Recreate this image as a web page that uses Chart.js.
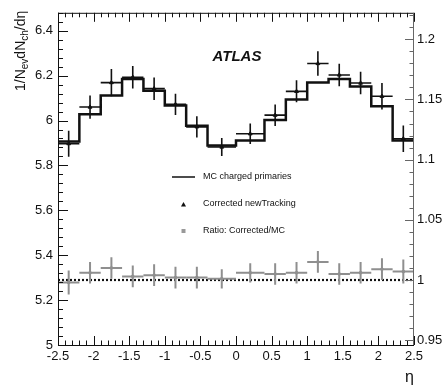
<!DOCTYPE html>
<html>
<head>
<meta charset="utf-8">
<script src="https://cdn.jsdelivr.net/npm/chart.js@4.4.1/dist/chart.umd.min.js"></script>
<style>
  html, body { margin: 0; padding: 0; background: #fff; }
  #wrap { width: 446px; height: 387px; }
</style>
</head>
<body>
<div id="wrap"><canvas id="myChart"></canvas></div>
<script>
// eta bins (two wider bins in the middle)
const binEdges = [-2.5, -2.2, -1.9, -1.6, -1.3, -1.0, -0.7, -0.4, 0, 0.4, 0.7, 1.0, 1.3, 1.6, 1.9, 2.2, 2.5];
const mcValues = [5.907, 6.028, 6.112, 6.185, 6.133, 6.067, 5.977, 5.889, 5.911, 6.002, 6.094, 6.169, 6.185, 6.152, 6.064, 5.911];
const dataValues = [5.897, 6.060, 6.169, 6.193, 6.142, 6.072, 5.972, 5.882, 5.941, 6.024, 6.130, 6.254, 6.203, 6.167, 6.108, 5.919];
const dataErrors = [0.058, 0.052, 0.061, 0.050, 0.050, 0.047, 0.047, 0.040, 0.046, 0.048, 0.049, 0.055, 0.050, 0.050, 0.059, 0.059];
const ratioValues = [0.998, 1.006, 1.010, 1.003, 1.004, 1.002, 1.002, 1.001, 1.006, 1.005, 1.006, 1.015, 1.005, 1.006, 1.009, 1.007];
const ratioErrors = [0.010, 0.009, 0.009, 0.009, 0.009, 0.009, 0.009, 0.008, 0.008, 0.009, 0.009, 0.009, 0.009, 0.009, 0.009, 0.010];
const seriesNames = ['MC charged primaries', 'Corrected newTracking', 'Ratio: Corrected/MC'];

const FONT = "'Liberation Sans', Arial, sans-serif";
const binCenters = binEdges.slice(0, -1).map((e, i) => (e + binEdges[i + 1]) / 2);
const fmt = v => String(+(+v).toFixed(2));

// crosses: horizontal = bin width, vertical = error
const errorBars = {
  id: 'errorBars',
  afterDatasetsDraw(chart) {
    const ctx = chart.ctx, xs = chart.scales.x;
    chart.data.datasets.forEach(ds => {
      if (!ds.yErr) return;
      const ys = chart.scales[ds.yAxisID];
      ctx.save();
      ctx.strokeStyle = ds.borderColor;
      ctx.lineWidth = ds.errWidth;
      ds.data.forEach((p, i) => {
        const x = xs.getPixelForValue(p.x), y = ys.getPixelForValue(p.y);
        const x0 = xs.getPixelForValue(binEdges[i]), x1 = xs.getPixelForValue(binEdges[i + 1]);
        ctx.beginPath();
        ctx.moveTo(x0, y); ctx.lineTo(x1, y);
        ctx.moveTo(x, ys.getPixelForValue(p.y + ds.yErr[i]));
        ctx.lineTo(x, ys.getPixelForValue(p.y - ds.yErr[i]));
        ctx.stroke();
      });
      ctx.restore();
    });
  }
};

// ROOT style frame with inward ticks
const rootFrame = {
  id: 'rootFrame',
  afterDraw(chart) {
    const {ctx, chartArea: a, scales} = chart;
    ctx.save();
    ctx.lineWidth = 1;
    ctx.strokeStyle = '#111';
    ctx.beginPath();
    for (let k = -25; k <= 25; k++) {
      const px = Math.round(scales.x.getPixelForValue(k / 10)) + 0.5;
      const len = k % 5 === 0 ? 9 : 4.5;
      ctx.moveTo(px, a.bottom); ctx.lineTo(px, a.bottom - len);
      ctx.moveTo(px, a.top); ctx.lineTo(px, a.top + len);
    }
    for (let k = 125; k <= 162; k++) {
      const v = k * 0.04;
      if (v > scales.y.max) break;
      const py = Math.round(scales.y.getPixelForValue(v)) + 0.5;
      const len = k % 5 === 0 ? 10 : 5;
      ctx.moveTo(a.left, py); ctx.lineTo(a.left + len, py);
    }
    ctx.moveTo(a.left + 0.5, a.top); ctx.lineTo(a.left + 0.5, a.bottom);
    ctx.moveTo(a.left, a.bottom + 0.5); ctx.lineTo(a.right, a.bottom + 0.5);
    ctx.moveTo(a.left, a.top + 0.5); ctx.lineTo(a.right, a.top + 0.5);
    ctx.stroke();

    ctx.strokeStyle = '#666';
    ctx.beginPath();
    for (let k = 95; k <= 122; k++) {
      const py = Math.round(scales.y2.getPixelForValue(k / 100)) + 0.5;
      const len = k % 5 === 0 ? 9 : 4.5;
      ctx.moveTo(a.right, py); ctx.lineTo(a.right - len, py);
    }
    ctx.moveTo(a.right - 0.5, a.top); ctx.lineTo(a.right - 0.5, a.bottom);
    ctx.stroke();
    ctx.restore();
  }
};

// y title with subscripts, ATLAS label, legend box
const annotations = {
  id: 'annotations',
  afterDraw(chart) {
    const ctx = chart.ctx;
    ctx.save();
    ctx.fillStyle = '#111';
    // y title
    ctx.translate(25, 91);
    ctx.rotate(-Math.PI / 2);
    ctx.textBaseline = 'alphabetic';
    let pos = 0;
    const parts = [['1/N', 0], ['ev', 1], ['dN', 0], ['ch', 1], ['/dη', 0]];
    parts.forEach(([t, sub]) => {
      ctx.font = (sub ? '10px ' : '14px ') + FONT;
      ctx.fillText(t, pos, sub ? 3 : 0);
      pos += ctx.measureText(t).width;
    });
    ctx.restore();

    ctx.save();
    ctx.fillStyle = '#111';
    ctx.font = 'italic bold 15px ' + FONT;
    ctx.textAlign = 'center';
    ctx.textBaseline = 'middle';
    ctx.fillText('ATLAS', 237, 57);

    // legend
    const ds = chart.data.datasets;
    ctx.font = '9px ' + FONT;
    ctx.textAlign = 'left';
    ctx.fillText(ds[0].label, 203, 177);
    ctx.fillText(ds[1].label, 203, 204);
    ctx.fillText(ds[2].label, 203, 231);
    ctx.strokeStyle = '#111';
    ctx.lineWidth = 1.5;
    ctx.beginPath();
    ctx.moveTo(172, 177); ctx.lineTo(195, 177);
    ctx.stroke();
    ctx.beginPath();
    ctx.moveTo(183.5, 202); ctx.lineTo(186, 206.5); ctx.lineTo(181, 206.5);
    ctx.closePath();
    ctx.fill();
    ctx.fillStyle = '#999';
    ctx.fillRect(181.5, 229, 4, 4);
    ctx.restore();
  }
};

const myChart = new Chart('myChart', {
  type: 'scatter',
  data: {
    datasets: [{
      label: seriesNames[0],
      type: 'line',
      data: binEdges.map((e, i) => ({x: e, y: mcValues[Math.min(i, mcValues.length - 1)]})),
      stepped: 'before',
      borderColor: '#111',
      borderWidth: 2.5,
      pointRadius: 0,
      fill: false,
      yAxisID: 'y'
    }, {
      label: seriesNames[1],
      data: binCenters.map((c, i) => ({x: c, y: dataValues[i]})),
      yErr: dataErrors,
      errWidth: 1.6,
      borderColor: '#111',
      backgroundColor: '#111',
      pointStyle: 'triangle',
      pointRadius: 2.2,
      yAxisID: 'y'
    }, {
      label: seriesNames[2],
      data: binCenters.map((c, i) => ({x: c, y: ratioValues[i]})),
      yErr: ratioErrors,
      errWidth: 2,
      borderColor: '#8f8f8f',
      backgroundColor: '#777',
      pointStyle: 'rect',
      pointRadius: 1.5,
      yAxisID: 'y2'
    }, {
      label: 'unity',
      type: 'line',
      data: [{x: -2.5, y: 1}, {x: 2.5, y: 1}],
      borderColor: '#111',
      borderWidth: 2.2,
      borderDash: [2, 2],
      pointRadius: 0,
      yAxisID: 'y2'
    }]
  },
  options: {
    responsive: true,
    maintainAspectRatio: false,
    animation: false,
    devicePixelRatio: 1,
    layout: { padding: { top: 7, left: 0, right: 0, bottom: 0 } },
    plugins: { legend: { display: false }, tooltip: { enabled: false } },
    scales: {
      x: {
        type: 'linear', position: 'bottom', min: -2.5, max: 2.5,
        grid: { display: false, drawTicks: false },
        border: { display: false },
        ticks: { stepSize: 0.5, autoSkip: false, maxRotation: 0, padding: 4, color: '#111',
                 font: { family: FONT, size: 13 }, callback: fmt },
        title: { display: true, text: 'η', align: 'end', color: '#111',
                 font: { family: FONT, size: 16 }, padding: { top: 0, bottom: 0 } },
        afterFit: s => { s.height = 42; }
      },
      y: {
        type: 'linear', position: 'left', min: 5, max: 6.48,
        grid: { display: false, drawTicks: false },
        border: { display: false },
        ticks: { stepSize: 0.2, includeBounds: false, padding: 5, color: '#111',
                 font: { family: FONT, size: 13 }, callback: fmt },
        afterFit: s => { s.width = 58; }
      },
      y2: {
        type: 'linear', position: 'right', min: 0.946, max: 1.222,
        grid: { display: false, drawTicks: false },
        border: { display: false },
        ticks: { stepSize: 0.05, includeBounds: false, padding: 3, color: '#111',
                 font: { family: FONT, size: 13 }, callback: fmt },
        afterFit: s => { s.width = 32; }
      }
    }
  },
  plugins: [errorBars, rootFrame, annotations]
});
</script>
</body>
</html>
